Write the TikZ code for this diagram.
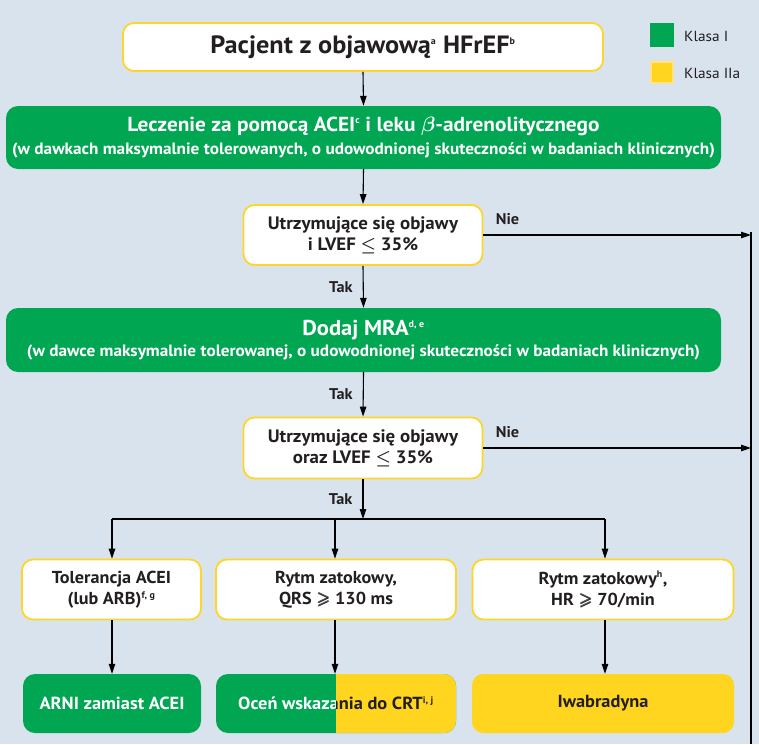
\documentclass[tikz,border=0pt]{standalone}
\usepackage{fontspec}
\usepackage{amsmath,amssymb,bm}
\setmainfont{PT Sans}[FakeStretch=1.05]
\usetikzlibrary{arrows.meta}
\definecolor{bg}{HTML}{D9E3EE}
\definecolor{kgreen}{HTML}{00A651}
\definecolor{kyellow}{HTML}{FFD520}
\definecolor{kborder}{HTML}{FFD52A}
\definecolor{klight}{HTML}{FFE38A}
\definecolor{ktext}{HTML}{231F20}
\newcommand{\sps}[1]{\textsuperscript{\fontsize{9.5}{9.5}\selectfont #1}}
\tikzset{
  whitebox/.style={draw=kborder, line width=1.8pt, fill=white, rounded corners=11pt, align=center, text=ktext, font=\bfseries\fontsize{17.3}{21}\selectfont, inner sep=0pt},
  greenbox/.style={fill=kgreen, rounded corners=12pt, align=center, text=white, inner sep=0pt},
  yellowbox/.style={fill=kyellow, rounded corners=11pt, align=center, text=ktext, font=\bfseries\fontsize{17.5}{20}\selectfont, inner sep=0pt},
  conn/.style={line width=1.1pt, -{Triangle[width=6.5pt,length=10pt]}},
  plain/.style={line width=1.1pt},
  lbl/.style={font=\bfseries\fontsize{15.5}{16}\selectfont, text=ktext, inner sep=0pt},
  legtxt/.style={font=\fontsize{14.6}{16}\selectfont, text=ktext, anchor=west, inner sep=0pt}
}
\begin{document}
\begin{tikzpicture}[x=1pt,y=-1pt]
\fill[bg] (0,0) rectangle (759,744);
\useasboundingbox (0,0) rectangle (759,744);

% top
\node[whitebox, minimum width=480pt, minimum height=48pt, font=\bfseries\fontsize{25}{28}\selectfont] (top) at (363,47) {Pacjent z objawową\sps{a} HFrEF\sps{b}};

% legend
\node[fill=kgreen, minimum width=24pt, minimum height=24pt, inner sep=0pt] (lg1) at (662,35) {};
\node[fill=kyellow, draw=klight, line width=2pt, minimum width=22pt, minimum height=21pt, inner sep=0pt] (lg2) at (662,72) {};
\node[legtxt] (lt1) at (684,36) {Klasa I};
\node[legtxt] (lt2) at (684,73) {Klasa IIa};

% green 1
\node[greenbox, minimum width=715pt, minimum height=63pt] (g1) at (363.5,137.5) {%
  {\bfseries\fontsize{20.3}{22}\selectfont Leczenie za pomocą ACEI\sps{c} i leku $\bm{\beta}$-adrenolitycznego}\\[6pt]
  {\bfseries\fontsize{16.4}{18}\selectfont (w dawkach maksymalnie tolerowanych, o udowodnionej skuteczności w badaniach klinicznych)}};

% decision 1
\node[whitebox, minimum width=239pt, minimum height=60pt, font=\bfseries\fontsize{18}{21}\selectfont] (d1) at (363,235) {Utrzymujące się objawy\\i LVEF $\bm{\leq}$ 35\%};

% green 2
\node[greenbox, minimum width=715pt, minimum height=64pt] (g2) at (363.5,340) {%
  {\bfseries\fontsize{21.5}{22}\selectfont Dodaj MRA\sps{d, e}}\\[4pt]
  {\bfseries\fontsize{16.4}{18}\selectfont (w dawce maksymalnie tolerowanej, o udowodnionej skuteczności w badaniach klinicznych)}};

% decision 2
\node[whitebox, minimum width=239pt, minimum height=61pt, font=\bfseries\fontsize{18}{21}\selectfont] (d2) at (363,448) {Utrzymujące się objawy\\oraz LVEF $\bm{\leq}$ 35\%};

% row of three
\node[whitebox, minimum width=179pt, minimum height=60pt] (b1) at (111.5,589.5) {Tolerancja ACEI\\(lub ARB)\sps{f, g}};
\node[whitebox, minimum width=240pt, minimum height=60pt] (b2) at (336,589.5) {Rytm zatokowy,\\QRS $\bm{\geqslant}$ 130 ms};
\node[whitebox, minimum width=261pt, minimum height=60pt] (b3) at (603,589.5) {Rytm zatokowy\sps{h},\\HR $\bm{\geqslant}$ 70/min};

% bottom row
\node[greenbox, minimum width=178pt, minimum height=59pt, font=\bfseries\fontsize{17.5}{20}\selectfont] (r1) at (112,703.5) {ARNI zamiast ACEI};
\node[greenbox, minimum width=240pt, minimum height=59pt,
  path picture={\fill[kyellow, sharp corners] (path picture bounding box.north) rectangle (path picture bounding box.south east);}] (r2) at (336,703.5) {};
\begin{scope}
  \clip (r2.south west) rectangle (r2.north);
  \node[text=white, font=\bfseries\fontsize{17.5}{20}\selectfont, inner sep=0pt] (r2a) at (r2.center) {Oceń wskazania do CRT\sps{i, j}};
\end{scope}
\begin{scope}
  \clip (r2.south) rectangle (r2.north east);
  \node[text=ktext, font=\bfseries\fontsize{17.5}{20}\selectfont, inner sep=0pt] (r2b) at (r2.center) {Oceń wskazania do CRT\sps{i, j}};
\end{scope}
\node[yellowbox, minimum width=262pt, minimum height=59pt] (r3) at (603,703.5) {Iwabradyna};

% connectors
\draw[conn] (top.south) -- (g1.north);
\draw[conn] (g1.south) -- (d1.north);
\draw[conn] (d1.south) -- node[lbl, pos=0.5, left=10pt] (t1) {Tak} (g2.north);
\draw[conn] (g2.south) -- node[lbl, pos=0.5, left=10pt] (t2) {Tak} (d2.north);

\coordinate (vtop) at (751,232);
\coordinate (vbot) at (751,744);
\draw[plain] (vtop) -- (vbot);
\coordinate (n1end) at (751,235);
\coordinate (n2end) at (751,448);
\draw[conn] (d1.east) -- node[lbl, above=10pt, pos=0.09] (nie1) {Nie} (n1end);
\draw[conn] (d2.east) -- node[lbl, above=10pt, pos=0.09] (nie2) {Nie} (n2end);

\coordinate (fan) at (363,519);
\coordinate (fanL) at (112,519);
\coordinate (fanM) at (335,519);
\coordinate (fanR) at (605,519);
\draw[conn] (d2.south) -- node[lbl, pos=0.5, left=10pt] (t3) {Tak} (fan);
\draw[plain] (fanL) -- (fanR);
\draw[conn] (fanL) -- (fanL |- b1.north);
\draw[conn] (fanM) -- (fanM |- b2.north);
\draw[conn] (fanR) -- (fanR |- b3.north);

\draw[conn] (b1.south -| fanL) -- (fanL |- r1.north);
\draw[conn] (b2.south -| fanM) -- (fanM |- r2.north);
\draw[conn] (b3.south -| fanR) -- (fanR |- r3.north);
\end{tikzpicture}
\end{document}
